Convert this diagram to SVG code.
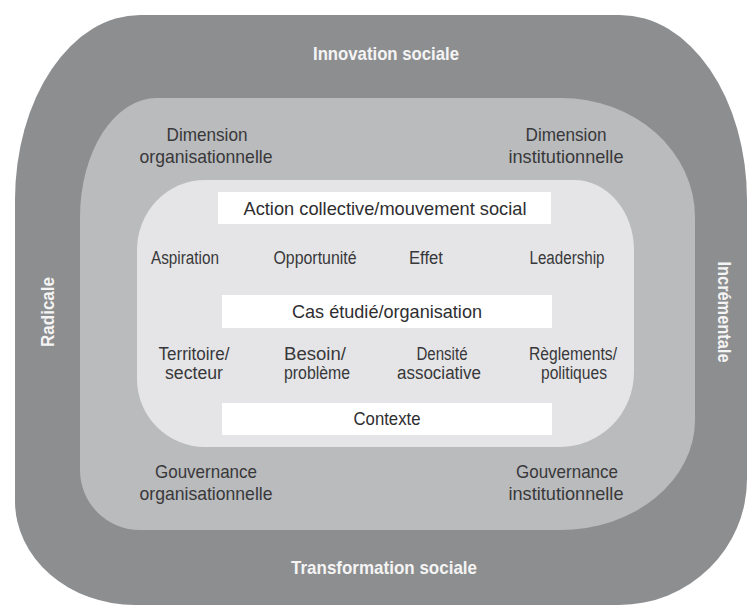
<svg xmlns="http://www.w3.org/2000/svg" width="748" height="607" viewBox="0 0 748 607">
<style>
text{font-family:"Liberation Sans",Arial,sans-serif;text-anchor:middle}
.t{font-size:19px;font-weight:bold;fill:#f4f4f4}
.d{font-size:19px;fill:#38383a}
.l{font-size:18px;fill:#38383a}
.b{font-size:19px;fill:#2e2e30}
.bar{fill:#ffffff}
</style>
<rect width="748" height="607" fill="#ffffff"/>
<g id="outer">
<path d="M140,15 H620 A127 185 0 0 1 747 200 V479 A128 126 0 0 1 619 605 H135 A120 104 0 0 1 15 501 V200 A125 185 0 0 1 140 15 Z" fill="#8d8e90"/>
<text class="t" x="386" y="60" textLength="146" lengthAdjust="spacingAndGlyphs">Innovation sociale</text>
<text class="t" x="384" y="574" textLength="186" lengthAdjust="spacingAndGlyphs">Transformation sociale</text>
<text class="t" transform="translate(54,312) rotate(-90)" x="0" y="0" textLength="70" lengthAdjust="spacingAndGlyphs">Radicale</text>
<text class="t" transform="translate(718,312) rotate(90)" x="0" y="0" textLength="101" lengthAdjust="spacingAndGlyphs">Incrémentale</text>
</g>
<g id="middle">
<path d="M157,98 H561 A134 119 0 0 1 695 217 V420 A135 110 0 0 1 560 530 H140 A60 60 0 0 1 80 470 V217 A77 119 0 0 1 157 98 Z" fill="#babbbd"/>
<text class="d" x="207" y="141" textLength="81" lengthAdjust="spacingAndGlyphs">Dimension</text>
<text class="d" x="206" y="163" textLength="133" lengthAdjust="spacingAndGlyphs">organisationnelle</text>
<text class="d" x="566" y="141" textLength="81" lengthAdjust="spacingAndGlyphs">Dimension</text>
<text class="d" x="566" y="163" textLength="115" lengthAdjust="spacingAndGlyphs">institutionnelle</text>
<text class="d" x="206" y="478" textLength="102" lengthAdjust="spacingAndGlyphs">Gouvernance</text>
<text class="d" x="206" y="500" textLength="133" lengthAdjust="spacingAndGlyphs">organisationnelle</text>
<text class="d" x="567" y="478" textLength="102" lengthAdjust="spacingAndGlyphs">Gouvernance</text>
<text class="d" x="566" y="500" textLength="115" lengthAdjust="spacingAndGlyphs">institutionnelle</text>
</g>
<g id="inner">
<path d="M205,180 H574 A60 70 0 0 1 634 250 V372 A74 75 0 0 1 560 447 H205 A68 68 0 0 1 137 379 V250 A68 70 0 0 1 205 180 Z" fill="#e5e5e7"/>
</g>
<g id="action-collective">
<rect class="bar" x="218" y="192" width="333" height="32"/>
<text class="b" x="385" y="215" textLength="283" lengthAdjust="spacingAndGlyphs">Action collective/mouvement social</text>
</g>
<g id="aspiration"><text class="l" x="185" y="264" textLength="68" lengthAdjust="spacingAndGlyphs">Aspiration</text></g>
<g id="opportunite"><text class="l" x="315" y="264" textLength="83" lengthAdjust="spacingAndGlyphs">Opportunité</text></g>
<g id="effet"><text class="l" x="426" y="264" textLength="34" lengthAdjust="spacingAndGlyphs">Effet</text></g>
<g id="leadership"><text class="l" x="567" y="264" textLength="75" lengthAdjust="spacingAndGlyphs">Leadership</text></g>
<g id="cas-etudie">
<rect class="bar" x="222" y="295" width="330" height="33"/>
<text class="b" x="387" y="318" textLength="190" lengthAdjust="spacingAndGlyphs">Cas étudié/organisation</text>
</g>
<g id="territoire">
<text class="l" x="194" y="360" textLength="71" lengthAdjust="spacingAndGlyphs">Territoire/</text>
<text class="l" x="194" y="379" textLength="58" lengthAdjust="spacingAndGlyphs">secteur</text>
</g>
<g id="besoin">
<text class="l" x="315" y="360" textLength="62" lengthAdjust="spacingAndGlyphs">Besoin/</text>
<text class="l" x="317" y="379" textLength="66" lengthAdjust="spacingAndGlyphs">problème</text>
</g>
<g id="densite">
<text class="l" x="442" y="360" textLength="51" lengthAdjust="spacingAndGlyphs">Densité</text>
<text class="l" x="439" y="379" textLength="84" lengthAdjust="spacingAndGlyphs">associative</text>
</g>
<g id="reglements">
<text class="l" x="573" y="360" textLength="88" lengthAdjust="spacingAndGlyphs">Règlements/</text>
<text class="l" x="574" y="379" textLength="66" lengthAdjust="spacingAndGlyphs">politiques</text>
</g>
<g id="contexte">
<rect class="bar" x="222" y="403" width="330" height="32"/>
<text class="b" x="387" y="425" textLength="67" lengthAdjust="spacingAndGlyphs">Contexte</text>
</g>
<g id="connectors"/>
</svg>
